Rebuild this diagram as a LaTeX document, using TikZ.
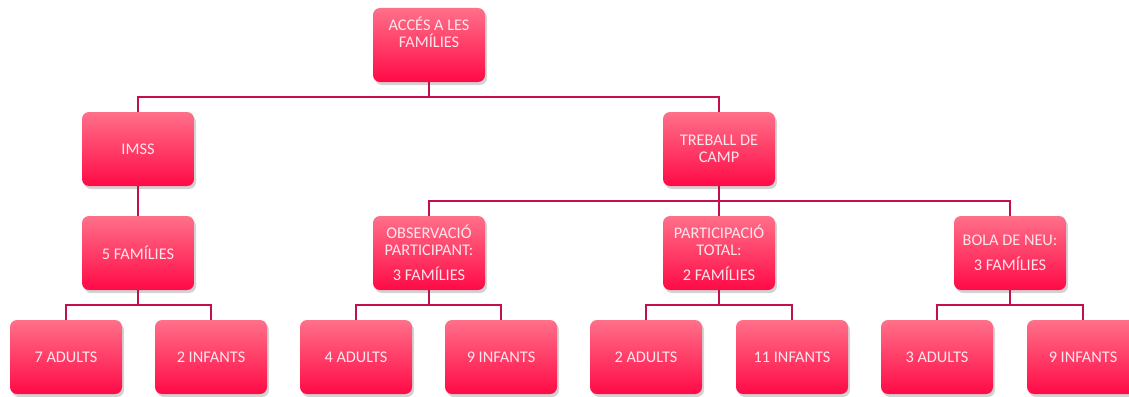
\documentclass[tikz,border=0pt]{standalone}
\usepackage{fontspec}
\setmainfont{Carlito}
\usetikzlibrary{shadows}
\definecolor{linec}{HTML}{C4104A}
\definecolor{topc}{HTML}{FF7089}
\definecolor{botc}{HTML}{FF0A46}
\definecolor{txtc}{HTML}{FFE6EC}
\tikzset{
  box/.style={rounded corners=7pt, minimum width=112pt, minimum height=74pt,
    top color=topc, bottom color=botc, draw=none,
    drop shadow={shadow xshift=2pt, shadow yshift=-3pt, opacity=0.35},
    text=txtc, font=\fontsize{16.3}{17}\selectfont, align=center, inner sep=0pt},
  conn/.style={draw=linec, line width=2pt}
}
\begin{document}
\begin{tikzpicture}[x=1pt,y=-1pt]
\useasboundingbox (0,0) rectangle (1129,396);
\clip (0,0) rectangle (1129,396);
% junction points
\coordinate (j0) at (429,97);
\coordinate (j1) at (719,201);
\coordinate (ja) at (138,305);
\coordinate (jb) at (429,305);
\coordinate (jc) at (719,305);
\coordinate (jd) at (1010,305);
% boxes
\node[box] (top) at (429,45) {ACCÉS A LES\\FAMÍLIES\\[8pt]\mbox{}};
\node[box] (imss) at (138,149) {IMSS};
\node[box] (treb) at (719,149) {TREBALL DE\\CAMP};
\node[box] (f5) at (138,253) {5 FAMÍLIES};
\node[box] (obs) at (429,253) {OBSERVACIÓ\\PARTICIPANT:\\[8pt]3 FAMÍLIES};
\node[box] (par) at (719,253) {PARTICIPACIÓ\\TOTAL:\\[8pt]2 FAMÍLIES};
\node[box] (bola) at (1010,253) {BOLA DE NEU:\\[8pt]3 FAMÍLIES};
\node[box] (a7) at (66,357) {7 ADULTS};
\node[box] (i2) at (211,357) {2 INFANTS};
\node[box] (a4) at (356,357) {4 ADULTS};
\node[box] (i9a) at (501,357) {9 INFANTS};
\node[box] (a2) at (646,357) {2 ADULTS};
\node[box] (i11) at (792,357) {11 INFANTS};
\node[box] (a3) at (937,357) {3 ADULTS};
\node[box] (i9b) at (1083,357) {9 INFANTS};
% connectors
\draw[conn] (top.south) -- (j0);
\draw[conn] (imss.north) |- (j0) -| (treb.north);
\draw[conn] (imss.south) -- (f5.north);
\draw[conn] (treb.south) -- (j1);
\draw[conn] (obs.north) |- (j1) -| (bola.north);
\draw[conn] (par.north) -- (j1);
\draw[conn] (f5.south) -- (ja);
\draw[conn] (a7.north) |- (ja) -| (i2.north);
\draw[conn] (obs.south) -- (jb);
\draw[conn] (a4.north) |- (jb) -| (i9a.north);
\draw[conn] (par.south) -- (jc);
\draw[conn] (a2.north) |- (jc) -| (i11.north);
\draw[conn] (bola.south) -- (jd);
\draw[conn] (a3.north) |- (jd) -| (i9b.north);
\end{tikzpicture}
\end{document}
